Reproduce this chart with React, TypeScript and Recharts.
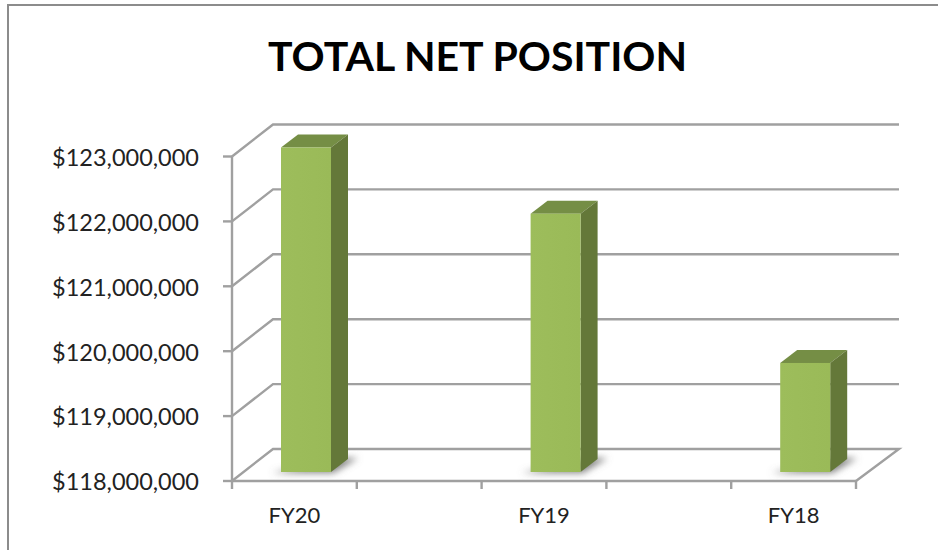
import React from "react";
import { BarChart, Bar, XAxis, YAxis, CartesianGrid } from "recharts";

const categories = ["FY20", "", "FY19", "", "FY18"];
const netPosition: (number | null)[] = [123000000, null, 121980000, null, 119680000];
const yTicks = [118000000, 119000000, 120000000, 121000000, 122000000, 123000000];

const rows = categories.map((name, i) => ({ name, value: netPosition[i] }));

const W = 938;
const H = 550;
const LEFT = 232;
const RIGHT = 856;
const TOP = 156.5;
const BOTTOM = 481;
const BAND = (RIGHT - LEFT) / categories.length;
const GRID = "#a0a0a0";
const FONT = "Lato, 'Open Sans', sans-serif";

const formatMoney = (v: number) => "$" + v.toLocaleString("en-US");

function GridLine(props: any) {
  const { y1 } = props;
  const wallDx = 41;
  const wallDy = 32;
  const isFloor = Math.abs(y1 - BOTTOM) < 1;
  return (
    <g>
      <polyline
        points={`${LEFT},${y1} ${LEFT + wallDx},${y1 - wallDy} ${RIGHT + 43},${y1 - wallDy}${isFloor ? ` ${RIGHT},${y1}` : ""}`}
        fill="none"
        stroke={GRID}
        strokeWidth={2.4}
      />
    </g>
  );
}

function Bar3D(props: any) {
  const { x, y, width, height } = props;
  if (height == null || !width) return null;
  const sx = 12;
  const sy = -9;
  const dx = 17;
  const dy = 13;
  const l = x + sx;
  const r = l + width;
  const t = y + sy;
  const b = y + height + sy;
  return (
    <g>
      <polygon
        points={`${l - 9},${b + 1} ${r + 2},${b + 1} ${r + 27},${b - 14} ${r + 8},${b - 14}`}
        fill="#777777"
        fillOpacity={0.9}
        filter="url(#barShadow)"
      />
      <polygon points={`${l},${t} ${r},${t} ${r + dx},${t - dy} ${l + dx},${t - dy}`} fill="#758e45" />
      <polygon points={`${r},${t} ${r + dx},${t - dy} ${r + dx},${b - dy} ${r},${b}`} fill="#647839" />
      <rect x={l} y={t} width={width} height={b - t} fill="url(#barFront)" />
    </g>
  );
}

function CategoryTick(props: any) {
  const { x, payload, index } = props;
  const last = index === categories.length - 1;
  return (
    <g>
      <line x1={x - BAND / 2} x2={x - BAND / 2} y1={BOTTOM} y2={BOTTOM + 8} stroke={GRID} strokeWidth={2.4} />
      {last && <line x1={x + BAND / 2} x2={x + BAND / 2} y1={BOTTOM} y2={BOTTOM + 8} stroke={GRID} strokeWidth={2.4} />}
      <text x={x} y={BOTTOM + 42} textAnchor="middle" fontFamily={FONT} fontSize={22} fill="#222">
        {payload.value}
      </text>
    </g>
  );
}

export default function App() {
  return (
    <div style={{ position: "absolute", left: 0, top: 0, width: W, height: H, background: "#fff" }}>
      <BarChart
        width={W}
        height={H}
        data={rows}
        margin={{ top: TOP, right: W - RIGHT, bottom: 0, left: 0 }}
        barSize={50}
      >
        <defs>
          <filter id="barShadow" x="-40%" y="-80%" width="180%" height="260%">
            <feGaussianBlur stdDeviation="3.5" />
          </filter>
          <linearGradient id="barFront" x1="0" y1="0" x2="1" y2="0">
            <stop offset="0" stopColor="#9dbd5b" />
            <stop offset="1" stopColor="#9aba58" />
          </linearGradient>
        </defs>
        <rect x={8} y={5} width={W} height={H} fill="none" stroke="#8c8c8c" strokeWidth={2} />
        <text x={477.5} y={71} textAnchor="middle" fontFamily={FONT} fontWeight={700} fontSize={41} fill="#000">
          TOTAL NET POSITION
        </text>
        <CartesianGrid vertical={false} horizontal={(p: any) => <GridLine {...p} />} />
        <XAxis
          dataKey="name"
          height={H - BOTTOM}
          interval={0}
          axisLine={{ stroke: GRID, strokeWidth: 2.4 }}
          tickLine={false}
          tick={(p: any) => <CategoryTick {...p} />}
        />
        <YAxis
          width={LEFT}
          domain={[118000000, 123000000]}
          ticks={yTicks}
          tickFormatter={formatMoney}
          interval={0}
          axisLine={{ stroke: GRID, strokeWidth: 2.4 }}
          tickLine={{ stroke: GRID, strokeWidth: 2.4 }}
          tickSize={9}
          tickMargin={24}
          tick={{ fontFamily: FONT, fontSize: 23.5, fill: "#222", dy: 1 }}
        />
        <Bar dataKey="value" isAnimationActive={false} shape={(p: any) => <Bar3D {...p} />} />
      </BarChart>
    </div>
  );
}
